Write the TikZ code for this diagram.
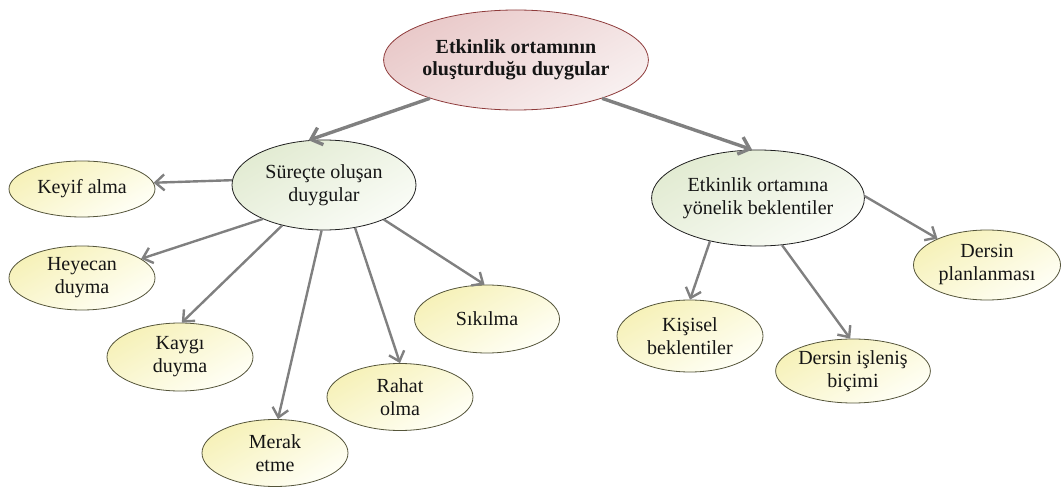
\documentclass[tikz,border=0pt]{standalone}
\usepackage{fontspec}
\setmainfont{Liberation Serif}
\usetikzlibrary{shapes.geometric,arrows.meta}
\definecolor{topA}{HTML}{E9C9C9}
\definecolor{topB}{HTML}{F8F0F0}
\definecolor{topD}{HTML}{8E3B3B}
\definecolor{midA}{HTML}{E2EBD2}
\definecolor{midB}{HTML}{FAFCF7}
\definecolor{midD}{HTML}{202020}
\definecolor{leafA}{HTML}{F6F1B8}
\definecolor{leafB}{HTML}{FFFFF6}
\definecolor{leafD}{HTML}{55553A}
\definecolor{arr}{HTML}{808080}
\definecolor{txt}{HTML}{151515}
\begin{document}
\begin{tikzpicture}[x=1pt,y=-1pt,
  base/.style={ellipse,inner sep=0pt,align=center,text=txt,line width=0.8pt,
    font=\fontsize{20}{23}\selectfont},
  topnode/.style={base,draw=topD,top color=topA,bottom color=topB,shading angle=30,
    font=\bfseries\fontsize{20}{21.5}\selectfont},
  midnode/.style={base,draw=midD,top color=midA,bottom color=midB,shading angle=30},
  leafnode/.style={base,draw=leafD,top color=leafA,bottom color=leafB,shading angle=30},
  conn/.style={draw=arr,line width=2.4pt,-{Straight Barb[length=9pt,width=16pt,line width=2.4pt]}},
  mainconn/.style={draw=arr,line width=3.4pt,-{Straight Barb[length=10pt,width=18pt,line width=3.4pt]}}
]
\useasboundingbox (0,0) rectangle (1061,489);
\node[topnode,minimum width=243pt,minimum height=100pt] (top) at (516,60) {Etkinlik ortamının\\oluşturduğu duygular};
\node[midnode,minimum width=184pt,minimum height=90pt] (sur) at (324,185) {Süreçte oluşan\\duygular};
\node[midnode,minimum width=190pt,minimum height=96pt] (etk) at (758,198) {Etkinlik ortamına\\yönelik beklentiler};
\node[leafnode,minimum width=146pt,minimum height=56pt] (keyif) at (82,189) {Keyif alma};
\node[leafnode,minimum width=146pt,minimum height=64pt] (hey) at (82,278) {Heyecan\\duyma};
\node[leafnode,minimum width=146pt,minimum height=68pt] (kaygi) at (180,357) {Kaygı\\duyma};
\node[leafnode,minimum width=146pt,minimum height=67pt] (merak) at (275,453) {Merak\\etme};
\node[leafnode,minimum width=146pt,minimum height=67pt] (rahat) at (400,397) {Rahat\\olma};
\node[leafnode,minimum width=145pt,minimum height=68pt] (sik) at (487,319) {Sıkılma};
\node[leafnode,minimum width=146pt,minimum height=72pt] (kis) at (690,336) {Kişisel\\beklentiler};
\node[leafnode,minimum width=147pt,minimum height=64pt] (isl) at (853,371) {Dersin işleniş\\biçimi};
\node[leafnode,minimum width=147pt,minimum height=70pt] (plan) at (987,265) {Dersin\\planlanması};

\draw[mainconn] (top.204) -- (sur.109);
\draw[mainconn] (top.336) -- (etk.97);
\draw[conn] (sur.177) -- (keyif.5);
\draw[conn] (sur.209) -- (hey.18);
\draw[conn] (sur.224) -- (kaygi.87);
\draw[conn] (sur.267) -- (merak.85);
\draw[conn] (sur.306) -- (rahat.90);
\draw[conn] (sur.330) -- (sik.94);
\draw[conn] (etk.222) -- (kis.90);
\draw[conn] (etk.297) -- (isl.95);
\draw[conn] (etk.1) -- (plan.152);
\end{tikzpicture}
\end{document}
